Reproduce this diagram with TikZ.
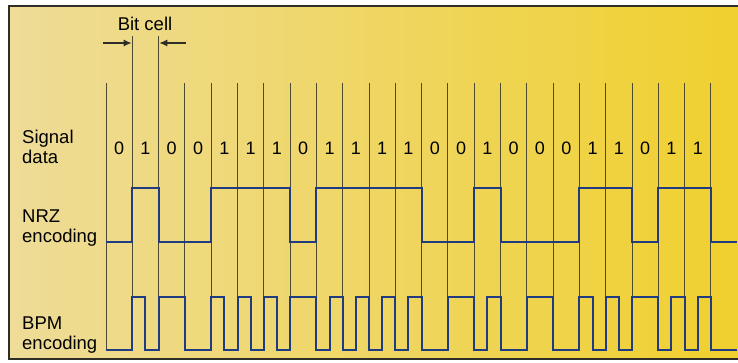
\documentclass[tikz,border=0pt]{standalone}
\usepackage{fontspec}
\setmainfont{Liberation Sans}
\usetikzlibrary{arrows.meta}

\definecolor{paperleft}{HTML}{EEDC98}
\definecolor{papermid}{HTML}{F4E2BC}
\definecolor{paperright}{HTML}{F0D02E}
\definecolor{framegray}{HTML}{2E2E26}
\definecolor{gridline}{HTML}{4E4A30}
\definecolor{wireblue}{HTML}{1F3C82}

\begin{document}
\begin{tikzpicture}[
    x=1pt, y=-1pt,
    label/.style={
        align=left,
        anchor=west,
        inner sep=0pt,
        font=\fontsize{18.5}{20}\selectfont
    },
    digit/.style={
        inner sep=0pt,
        font=\fontsize{18}{18}\selectfont
    },
    divider/.style={
        draw=gridline,
        line width=1pt
    },
    wave/.style={
        draw=wireblue,
        line width=2pt
    },
    arrow/.style={
        -{Latex[length=8pt, width=7pt]},
        line width=1.2pt,
        draw=framegray
    }
]
\useasboundingbox (0,0) rectangle (738,362);

% paper and frame
\shade[left color=paperleft, middle color=papermid, right color=paperright] (9,6) rectangle (738,359);
\draw[framegray, line width=1.2pt] (738,6) -- (9,6) -- (9,359) -- (738,359);

% cell boundaries
\foreach \k in {0,...,23} {
    \coordinate (top\k) at ({106+\k*26.3},83);
    \coordinate (bot\k) at ({106+\k*26.3},350);
    \draw[divider] (top\k) -- (bot\k);
}
\coordinate (cellL) at (132.3,36);
\coordinate (cellR) at (158.6,36);
\draw[divider] (cellL) -- (top1);
\draw[divider] (cellR) -- (top2);

% bit cell marker
\node[inner sep=0pt, font=\fontsize{18.5}{20}\selectfont] (bitcell) at (145,23.5) {Bit cell};
\coordinate (arrL) at (103,43);
\coordinate (arrLtip) at (131.6,43);
\coordinate (arrR) at (186,43);
\coordinate (arrRtip) at (159.3,43);
\draw[arrow] (arrL) -- (arrLtip);
\draw[arrow] (arrR) -- (arrRtip);

% labels
\node[label] (sig) at (22,147) {Signal\\data};
\node[label] (nrz) at (22,228) {NRZ\\encoding};
\node[label] (bpm) at (22,335) {BPM\\encoding};

% data bits
\foreach \b [count=\i from 0] in {0,1,0,0,1,1,1,0,1,1,1,1,0,0,1,0,0,0,1,1,0,1,1}
    \node[digit] (d\i) at ({106+(\i+0.5)*26.3},148) {\b};

% NRZ waveform
\draw[wave] (106,242)
    \foreach \b [count=\i from 0] in {0,1,0,0,1,1,1,0,1,1,1,1,0,0,1,0,0,0,1,1,0,1,1,0} {
        -- ({106+\i*26.3},{242-54*\b}) -- ({106+(\i+1)*26.3},{242-54*\b})
    };

% BPM waveform
\draw[wave] (106,350)
    \foreach \p/\q [count=\i from 0] in {0/0,1/0,1/1,0/0,1/0,1/0,1/0,1/1,0/1,0/1,0/1,0/1,0/0,1/1,0/1,0/0,1/1,0/0,1/0,1/0,1/1,0/1,0/1,0/0} {
        -- ({106+\i*26.3},{350-53*\p}) -- ({106+(\i+0.5)*26.3},{350-53*\p})
        -- ({106+(\i+0.5)*26.3},{350-53*\q}) -- ({106+(\i+1)*26.3},{350-53*\q})
    };

\end{tikzpicture}
\end{document}
